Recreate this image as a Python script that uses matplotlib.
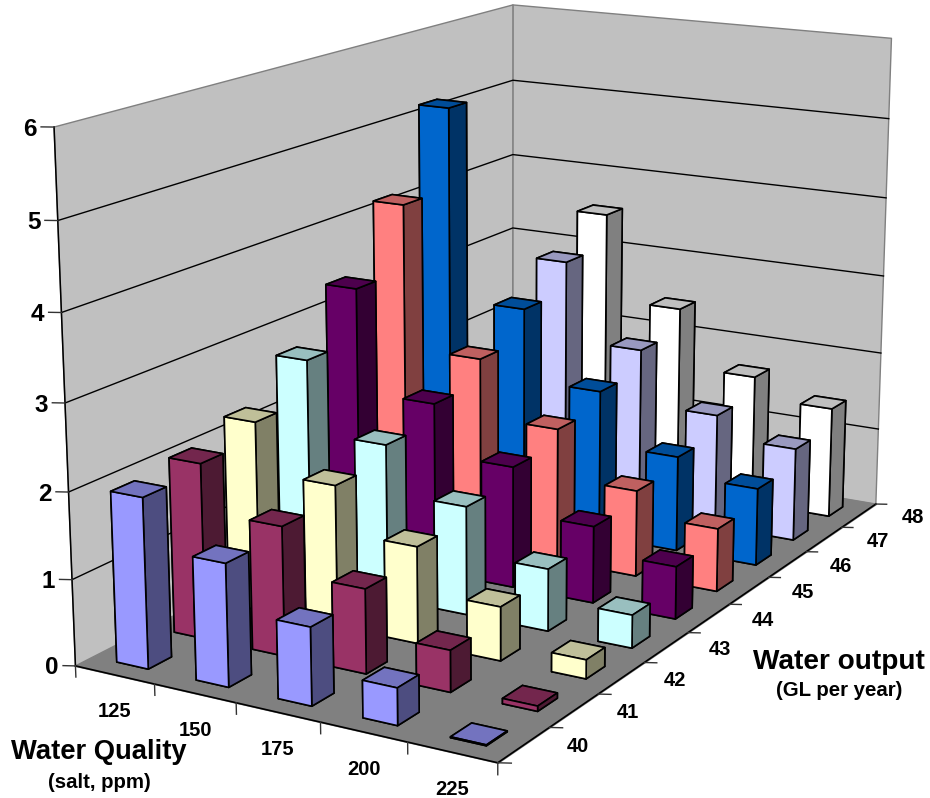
import numpy as np
import matplotlib
matplotlib.use("Agg")
import matplotlib.pyplot as plt
from mpl_toolkits.mplot3d import proj3d
from mpl_toolkits.mplot3d.art3d import Poly3DCollection

plt.rcParams['font.family'] = ['Liberation Sans', 'DejaVu Sans']
plt.rcParams['font.weight'] = 'bold'

# salt level rows, water output series
quality = ['125', '150', '175', '200', '225']
output = ['40', '41', '42', '43', '44', '45', '46', '47', '48']
zticks = [0, 1, 2, 3, 4, 5, 6]

row_125 = [1.97, 2.06, 2.26, 2.73, 3.35, 4.16, 5.17]
row_150 = [1.41, 1.51, 1.68, 1.87, 2.09, 2.38, 2.76, 3.13, 3.53]
row_175 = [0.89, 0.98, 1.14, 1.30, 1.48, 1.66, 1.86, 2.13, 2.42]
row_200 = [0.42, 0.48, 0.63, 0.74, 0.93, 1.06, 1.19, 1.44, 1.67]
row_225 = [0.01, 0.06, 0.22, 0.39, 0.63, 0.77, 0.96, 1.17, 1.41]
rows = [row_125, row_150, row_175, row_200, row_225]

colors = ['#9999FF', '#993366', '#FFFFCC', '#CCFFFF', '#660066',
          '#FF8080', '#0066CC', '#CCCCFF', '#FFFFFF']

nx, ny, ztop = len(quality), len(output), zticks[-1]
bar_w = 0.4
gap = 0.3
W, H = 930, 798


def shades(col):
    base = np.array(matplotlib.colors.to_rgb(col))
    front, top, side = tuple(base), tuple(base * 0.75), tuple(base * 0.5)
    # bar3d face order: bottom, top, -y, +y, -x, +x
    return [front, top, front, side, side, side]


def label(x, y, z, txt, dx=0, dy=0, **kw):
    # text placed at a projected 3d point, shifted by dx, dy pixels
    px, py, _ = proj3d.proj_transform(x, y, z, ax.get_proj())
    u, v = ax.transData.transform((px, py))
    fig.text((u + dx) / W, (v + dy) / H, txt, **kw)


fig = plt.figure(figsize=(9.3, 7.98), dpi=100)
ax = fig.add_axes([-0.0345, -0.0939, 1.1274, 1.3139], projection='3d', computed_zorder=False)
ax.set_xlim(0, nx)
ax.set_ylim(0, ny)
ax.set_zlim(0, ztop)
ax.view_init(elev=15.014, azim=-60.0118, roll=0)
ax.set_proj_type('persp', focal_length=0.5298)
ax.set_box_aspect((1, 1.7975, 1.1216))
ax.set_axis_off()
ax.apply_aspect()

# walls and floor
left_wall = [(0, 0, 0), (0, ny, 0), (0, ny, ztop), (0, 0, ztop)]
back_wall = [(0, ny, 0), (nx, ny, 0), (nx, ny, ztop), (0, ny, ztop)]
floor = [(0, 0, 0), (nx, 0, 0), (nx, ny, 0), (0, ny, 0)]
ax.add_collection3d(Poly3DCollection([left_wall, back_wall], facecolor='#C0C0C0', edgecolor='#808080',
                                     linewidth=1, zorder=1), autolim=False)
ax.add_collection3d(Poly3DCollection([floor], facecolor='#808080', edgecolor='#808080',
                                     linewidth=1, zorder=2), autolim=False)

# gridlines along both walls
for k in zticks[1:-1]:
    ax.plot([0, 0, nx], [0, ny, ny], [k, k, k], color='black', lw=1.0, zorder=3)
ax.plot([0, 0], [0, 0], [0, ztop], color='black', lw=1.1, zorder=3)
ax.plot([0, nx, nx], [0, 0, ny], [0, 0, 0], color='black', lw=1.2, zorder=3)

# tick marks and their labels
for k in zticks:
    ax.plot([0, -0.115], [0, -0.057], [k, k], color='#333333', lw=1, zorder=3)
    label(0, 0, k, str(k), dx=-17, dy=-2, fontsize=17.5, ha='right', va='center')
for i in range(nx + 1):
    ax.plot([i, i], [0, 0], [0, -0.13], color='#333333', lw=1, zorder=3)
for j in range(ny + 1):
    ax.plot([nx, nx + 0.115], [j, j + 0.057], [0, 0], color='#333333', lw=1, zorder=3)
for i, lab in enumerate(quality):
    label(i + 0.5, 0, 0, lab, dy=-37, fontsize=14.5, ha='center', va='center')
for j, lab in enumerate(output):
    label(nx, j + 0.5, 0, lab, dx=53.5, dy=-2, fontsize=14.5, ha='center', va='center')

# columns, painted from the back corner forward
z = 10
for i, row in enumerate(rows):
    for j in range(len(row) - 1, -1, -1):
        ax.bar3d(i + gap, j + gap, 0, bar_w, bar_w, row[j], color=shades(colors[j]),
                 edgecolor='black', linewidth=1.2, shade=False, zorder=z)
        z += 1

fig.text(99 / W, 1 - 752 / H, 'Water Quality', fontsize=19.7, ha='center', va='center')
fig.text(99 / W, 1 - 782 / H, '(salt, ppm)', fontsize=14.7, ha='center', va='center')
fig.text(839 / W, 1 - 662 / H, 'Water output', fontsize=20.2, ha='center', va='center')
fig.text(839 / W, 1 - 691 / H, '(GL per year)', fontsize=14.7, ha='center', va='center')

fig.savefig('out.png', dpi=100)
